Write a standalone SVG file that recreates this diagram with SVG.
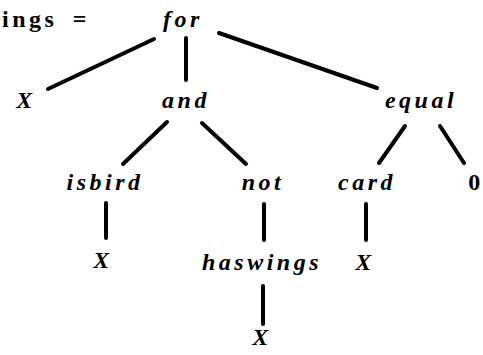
<svg xmlns="http://www.w3.org/2000/svg" width="483" height="355" viewBox="0 0 483 355">
  <style>
    .t { font-family: "Liberation Serif", "DejaVu Serif", serif; font-size: 24px; font-weight: bold; font-style: italic; fill: #000; letter-spacing: 3.5px; }
    .u { font-style: normal; }
    .e { stroke: #000; stroke-width: 4; stroke-linecap: round; fill: none; }
  </style>
  <rect width="483" height="355" fill="#fff"/>
  <g id="edges">
    <line class="e" x1="186" y1="38" x2="186" y2="80"/>
    <line class="e" x1="154" y1="39" x2="48" y2="89"/>
    <line class="e" x1="219" y1="33" x2="377" y2="88"/>
    <line class="e" x1="167" y1="122" x2="123" y2="164"/>
    <line class="e" x1="202" y1="123" x2="246" y2="164"/>
    <line class="e" x1="405" y1="126" x2="379" y2="163"/>
    <line class="e" x1="440" y1="126" x2="464" y2="163"/>
    <line class="e" x1="106" y1="203" x2="106" y2="238"/>
    <line class="e" x1="264" y1="204" x2="264" y2="240"/>
    <line class="e" x1="366" y1="204" x2="366" y2="240"/>
    <line class="e" x1="263" y1="286" x2="263" y2="324"/>
  </g>
  <g id="lhs"><text class="t u" x="2" y="27">ings <tspan dx="6">=</tspan></text></g>
  <g id="for"><text class="t" x="183" y="27" text-anchor="middle">for</text></g>
  <g id="x1"><text class="t" x="26" y="108" text-anchor="middle">X</text></g>
  <g id="and"><text class="t" x="186" y="108" text-anchor="middle">and</text></g>
  <g id="equal"><text class="t" x="421" y="108" text-anchor="middle">equal</text></g>
  <g id="isbird"><text class="t" x="105" y="190" text-anchor="middle">isbird</text></g>
  <g id="not"><text class="t" x="263" y="190" text-anchor="middle">not</text></g>
  <g id="card"><text class="t" x="367" y="190" text-anchor="middle">card</text></g>
  <g id="zero"><text class="t u" x="476" y="190" text-anchor="middle">0</text></g>
  <g id="x2"><text class="t" x="103" y="268" text-anchor="middle">X</text></g>
  <g id="haswings"><text class="t" x="262" y="270" text-anchor="middle" letter-spacing="4.5">haswings</text></g>
  <g id="x3"><text class="t" x="365" y="270" text-anchor="middle">X</text></g>
  <g id="x4"><text class="t" x="262" y="345" text-anchor="middle">X</text></g>
</svg>
